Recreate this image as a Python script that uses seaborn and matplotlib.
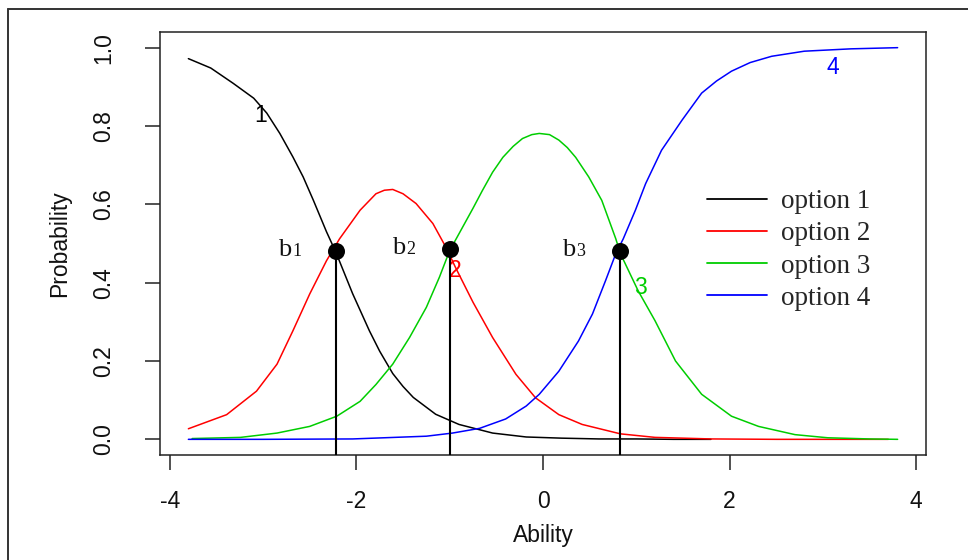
import matplotlib
matplotlib.use("Agg")
import matplotlib.pyplot as plt
from matplotlib.lines import Line2D
import seaborn as sns
import pandas as pd

# category curves (ability, probability)
opt1_x = [-3.8, -3.56, -3.32, -3.1, -2.96, -2.82, -2.68, -2.57, -2.46, -2.32, -2.22,
          -2.04, -1.86, -1.75, -1.61, -1.5, -1.39, -1.15, -0.9, -0.54, -0.18, 0.2, 0.6,
          1.0, 1.4, 1.8]
opt1_y = [0.972, 0.948, 0.909, 0.871, 0.833, 0.781, 0.721, 0.67, 0.61, 0.53, 0.478,
          0.372, 0.277, 0.225, 0.168, 0.135, 0.107, 0.064, 0.038, 0.016, 0.006, 0.003,
          0.001, 0.001, 0.0, 0.0]

opt2_x = [-3.8, -3.39, -3.07, -2.85, -2.68, -2.5, -2.32, -2.18, -1.96, -1.79, -1.7,
          -1.61, -1.5, -1.36, -1.18, -1.09, -1.03, -0.94, -0.75, -0.54, -0.29, -0.08,
          0.17, 0.42, 0.83, 1.2, 1.8, 2.5, 3.1, 3.7]
opt2_y = [0.027, 0.063, 0.123, 0.192, 0.277, 0.371, 0.456, 0.512, 0.585, 0.627, 0.636,
          0.638, 0.627, 0.602, 0.551, 0.512, 0.486, 0.44, 0.35, 0.26, 0.166, 0.106,
          0.063, 0.038, 0.014, 0.005, 0.001, 0.0, 0.0, 0.0]

opt3_x = [-3.76, -3.24, -2.85, -2.5, -2.21, -1.96, -1.79, -1.61, -1.43, -1.25, -1.11,
          -1.0, -0.93, -0.75, -0.65, -0.54, -0.43, -0.32, -0.22, -0.12, -0.04, 0.07,
          0.17, 0.26, 0.35, 0.49, 0.63, 0.78, 0.83, 1.02, 1.2, 1.42, 1.7, 2.02, 2.31,
          2.7, 3.05, 3.5, 3.8]
opt3_y = [0.002, 0.005, 0.016, 0.033, 0.059, 0.097, 0.14, 0.192, 0.26, 0.337, 0.414,
          0.482, 0.512, 0.59, 0.635, 0.682, 0.72, 0.748, 0.768, 0.778, 0.781, 0.778,
          0.764, 0.745, 0.72, 0.67, 0.61, 0.512, 0.474, 0.379, 0.303, 0.2, 0.115, 0.059,
          0.033, 0.012, 0.004, 0.001, 0.0]

opt4_x = [-3.8, -3.0, -2.04, -1.25, -0.97, -0.68, -0.4, -0.18, -0.04, 0.17, 0.38, 0.53,
          0.67, 0.78, 0.86, 0.99, 1.1, 1.27, 1.49, 1.7, 1.86, 2.02, 2.22, 2.45, 2.8,
          3.3, 3.8]
opt4_y = [0.0, 0.0, 0.001, 0.008, 0.016, 0.028, 0.052, 0.085, 0.115, 0.174, 0.251, 0.32,
          0.405, 0.474, 0.512, 0.585, 0.653, 0.738, 0.815, 0.884, 0.915, 0.94, 0.962,
          0.978, 0.991, 0.997, 1.0]

options = ["option 1", "option 2", "option 3", "option 4"]
colors = ["black", "#FF0000", "#00CD00", "#0000FF"]

# crossing points b1..b3
b_names = ["1", "2", "3"]
b_x = [-2.22, -1.0, 0.82]
b_y = [0.482, 0.485, 0.482]

# curve number labels
curve_lab_x = [-3.03, -0.94, 1.04, 3.11]
curve_lab_y = [0.828, 0.431, 0.388, 0.95]

df = pd.concat(
    [
        pd.DataFrame({"Ability": x, "Probability": y, "option": name})
        for x, y, name in zip(
            [opt1_x, opt2_x, opt3_x, opt4_x], [opt1_y, opt2_y, opt3_y, opt4_y], options
        )
    ],
    ignore_index=True,
)

sns.set_theme(style="white")
plt.rcParams["font.family"] = ["Liberation Sans", "DejaVu Sans"]
plt.rcParams["axes.unicode_minus"] = False

W, H = 968, 560
fig, ax = plt.subplots(figsize=(W / 100, H / 100), dpi=100)
fig.subplots_adjust(left=160 / W, right=926 / W, top=1 - 32 / H, bottom=1 - 455 / H)

palette = dict(zip(options, colors))
sns.lineplot(
    data=df, x="Ability", y="Probability", hue="option", palette=palette,
    sort=False, estimator=None, legend=False, lw=1.1, ax=ax,
)

ax.set_xlim(-4.104, 4.104)
ax.set_ylim(-0.04, 1.04)

# vertical drop lines and points at the thresholds
ax.vlines(b_x, -0.04, b_y, color="black", lw=1.5, zorder=4)
sns.scatterplot(x=b_x, y=b_y, color="black", s=150, edgecolor="black",
                linewidth=0, zorder=5, ax=ax)

for name, x, y in zip(b_names, b_x, b_y):
    ax.text(x - 0.62, y - 0.013, "b", family="Liberation Serif", fontsize=19,
            ha="left", va="baseline", color="#111111")
    ax.text(x - 0.46, y - 0.013, name, family="Liberation Serif", fontsize=13,
            ha="left", va="baseline", color="#111111")

for lab, x, y, c in zip(["1", "2", "3", "4"], curve_lab_x, curve_lab_y, colors):
    ax.text(x, y, lab, fontsize=16.5, ha="center", va="center", color=c)

ax.set_xticks([-4, -2, 0, 2, 4])
ax.set_yticks([0.0, 0.2, 0.4, 0.6, 0.8, 1.0])
ax.set_yticklabels(["0.0", "0.2", "0.4", "0.6", "0.8", "1.0"])
ax.tick_params(axis="both", direction="out", length=11, width=1.1, color="#222222",
               labelsize=16.5, labelcolor="#111111", bottom=True, left=True)
ax.tick_params(axis="x", pad=14.5)
ax.tick_params(axis="y", pad=21.5, labelrotation=90)
for t in ax.get_yticklabels():
    t.set_va("center")

ax.set_xlabel("Ability", fontsize=16.5, color="#111111")
ax.set_ylabel("Probability", fontsize=16.5, color="#111111")
ax.xaxis.set_label_coords(0.5, -0.162)
ax.yaxis.set_label_coords(-0.116, 0.5)

for s in ax.spines.values():
    s.set_visible(True)
    s.set_color("#222222")
    s.set_linewidth(1.1)

handles = [Line2D([0], [0], color=c, lw=1.3) for c in colors]
ax.legend(
    handles, options, loc="upper left", bbox_to_anchor=(707 / W, 1 - 189 / H),
    bbox_transform=fig.transFigure, frameon=False, borderpad=0, borderaxespad=0,
    handlelength=2.2, handletextpad=0.52, labelspacing=0.27,
    prop={"family": "Liberation Serif", "size": 19.5},
)

# outer frame of the original image (left and top edges)
fig.add_artist(Line2D([8 / W, 8 / W], [0, 1 - 9 / H], transform=fig.transFigure,
                      color="#333333", lw=1.4))
fig.add_artist(Line2D([8 / W, 1], [1 - 9 / H, 1 - 9 / H], transform=fig.transFigure,
                      color="#333333", lw=1.4))

fig.savefig("out.png", dpi=100)
